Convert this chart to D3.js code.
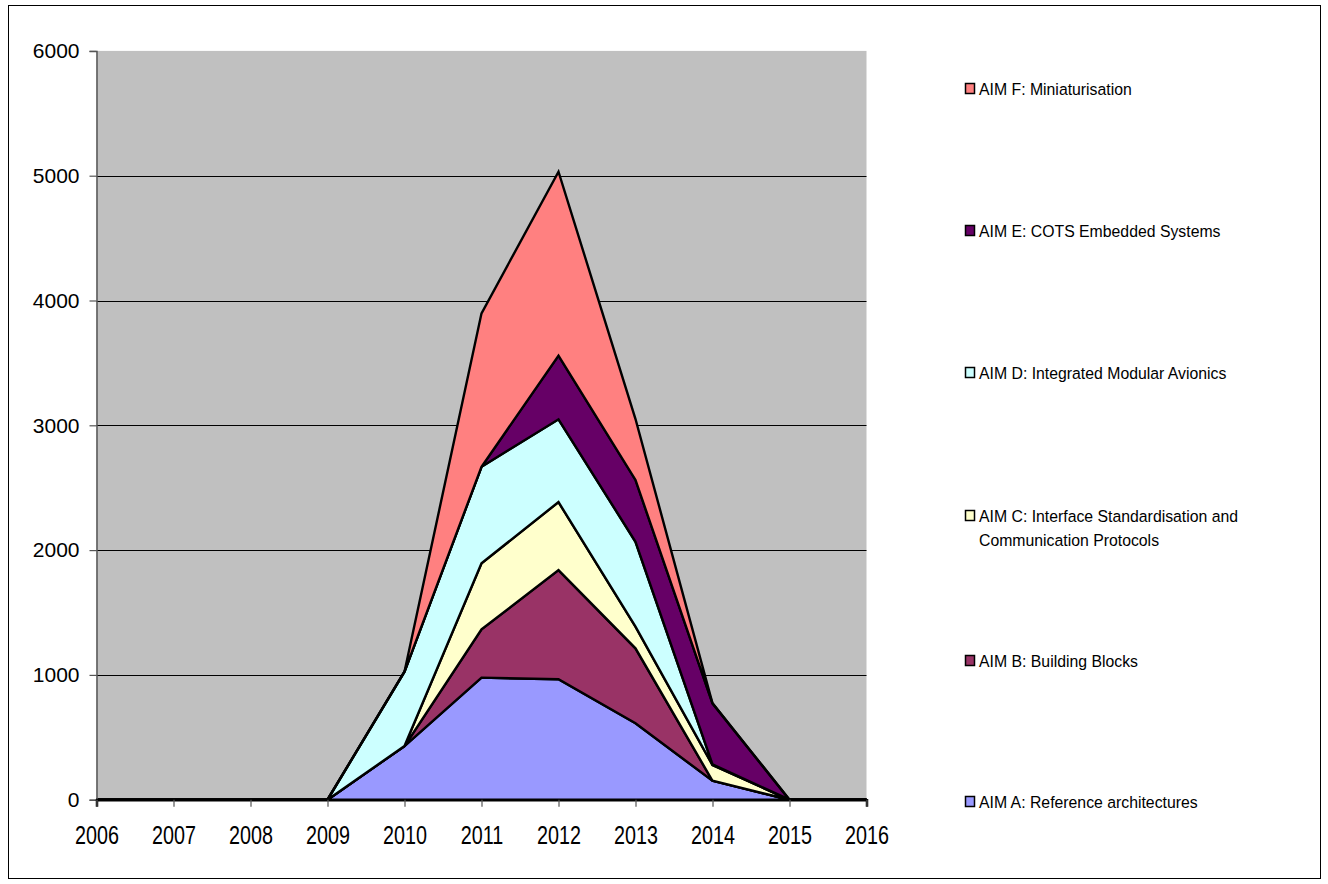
<!DOCTYPE html>
<html>
<head>
<meta charset="utf-8">
<script src="https://cdn.jsdelivr.net/npm/d3@7"></script>
<style>
  html, body { margin: 0; padding: 0; background: #fff; }
  svg { display: block; }
</style>
</head>
<body>
<svg id="chart" width="1328" height="884"></svg>
<script>
// Yearly effort per research aim (stacked)
const years = [2006, 2007, 2008, 2009, 2010, 2011, 2012, 2013, 2014, 2015, 2016];
const aimA = [0, 0, 0, 0, 430, 978, 965, 612, 152, 0, 0];
const aimB = [0, 0, 0, 0, 0, 387, 875, 601, 0, 0, 0];
const aimC = [0, 0, 0, 0, 0, 529, 545, 173, 126, 0, 0];
const aimD = [0, 0, 0, 0, 596, 774, 663, 681, 5, 0, 0];
const aimE = [0, 0, 0, 0, 0, 0, 510, 495, 489, 0, 0];
const aimF = [0, 0, 0, 0, 0, 1229, 1474, 488, 0, 0, 0];

const seriesNames = [
  "AIM A: Reference architectures",
  "AIM B: Building Blocks",
  "AIM C: Interface Standardisation and Communication Protocols",
  "AIM D: Integrated Modular Avionics",
  "AIM E: COTS Embedded Systems",
  "AIM F: Miniaturisation"
];
const seriesColors = ["#9999FF", "#993366", "#FFFFCC", "#CCFFFF", "#660066", "#FF8080"];
const yTicks = [0, 1000, 2000, 3000, 4000, 5000, 6000];

const keys = ["A", "B", "C", "D", "E", "F"];
const cols = [aimA, aimB, aimC, aimD, aimE, aimF];
const table = years.map((yr, i) => {
  const row = { year: yr };
  keys.forEach((k, j) => { row[k] = cols[j][i]; });
  return row;
});

const svg = d3.select("#chart");

// outer frame
svg.append("rect")
  .attr("x", 8.5).attr("y", 5.5)
  .attr("width", 1312).attr("height", 873)
  .attr("fill", "#fff").attr("stroke", "#000").attr("stroke-width", 1);

const x = d3.scalePoint().domain(years).range([96.5, 866.5]);
const y = d3.scaleLinear().domain([0, 6000]).range([799.7, 50.9]);

// plot background
svg.append("rect")
  .attr("x", x(2006)).attr("y", y(6000))
  .attr("width", x(2016) - x(2006)).attr("height", y(0) - y(6000))
  .attr("fill", "#C0C0C0");

// horizontal gridlines
svg.append("g")
  .selectAll("line")
  .data(yTicks.filter(v => v > 0 && v < 6000))
  .join("line")
  .attr("x1", x(2006)).attr("x2", x(2016))
  .attr("y1", d => Math.round(y(d)) + 0.5).attr("y2", d => Math.round(y(d)) + 0.5)
  .attr("stroke", "#000").attr("stroke-width", 1);

// stacked areas
const stack = d3.stack().keys(keys);
const layers = stack(table);
const area = d3.area()
  .x(d => x(d.data.year))
  .y0(d => y(d[0]))
  .y1(d => y(d[1]));

svg.append("g")
  .selectAll("path")
  .data(layers)
  .join("path")
  .attr("d", area)
  .attr("fill", (d, i) => seriesColors[i])
  .attr("stroke", "#000")
  .attr("stroke-width", 2.4)
  .attr("stroke-linejoin", "miter");

// y axis
const yAxis = d3.axisLeft(y).tickValues(yTicks).tickSize(7).tickPadding(10)
  .tickFormat(d3.format("d"));
const gy = svg.append("g").attr("transform", `translate(${x(2006)},0)`).call(yAxis);
gy.select(".domain").attr("stroke", "#555").attr("stroke-width", 1.5);
gy.selectAll(".tick line").attr("stroke", "#555").attr("stroke-width", 1.2);
gy.selectAll(".tick text")
  .attr("font-family", "'Liberation Sans', Arial, sans-serif")
  .attr("font-size", 21).attr("fill", "#000");

// x axis (condensed year labels)
const xAxis = d3.axisBottom(x).tickSize(7).tickPadding(19).tickFormat(d3.format("d"));
const gx = svg.append("g").attr("transform", `translate(0,${y(0)})`).call(xAxis);
gx.select(".domain").attr("stroke", "#000").attr("stroke-width", 2.5);
gx.selectAll(".tick line").attr("stroke", "#555").attr("stroke-width", 1.2);
gx.selectAll(".tick text")
  .attr("font-family", "'Liberation Sans', Arial, sans-serif")
  .attr("font-size", 26).attr("fill", "#000")
  .attr("transform", "scale(0.76,1)");

// legend (top entry is the last series)
const legendRows = [
  { i: 5, y: 89, lines: ["AIM F: Miniaturisation"] },
  { i: 4, y: 231, lines: ["AIM E: COTS Embedded Systems"] },
  { i: 3, y: 373, lines: ["AIM D: Integrated Modular Avionics"] },
  { i: 2, y: 516, lines: ["AIM C: Interface Standardisation and", "Communication Protocols"] },
  { i: 1, y: 661, lines: ["AIM B: Building Blocks"] },
  { i: 0, y: 802, lines: ["AIM A: Reference architectures"] }
];
const lg = svg.append("g");
const items = lg.selectAll("g").data(legendRows).join("g");
items.append("rect")
  .attr("x", 965.5).attr("y", d => d.y - 5.5)
  .attr("width", 9).attr("height", 10)
  .attr("fill", d => seriesColors[d.i])
  .attr("stroke", "#000").attr("stroke-width", 1.5);
items.each(function (d) {
  const t = d3.select(this).append("text")
    .attr("transform", `translate(979,${d.y}) scale(0.93,1)`)
    .attr("dominant-baseline", "central")
    .attr("font-family", "'Liberation Sans', Arial, sans-serif")
    .attr("font-size", 17).attr("fill", "#000");
  d.lines.forEach((ln, k) => {
    t.append("tspan").attr("x", 0).attr("dy", k === 0 ? 0 : 24).text(ln);
  });
});
</script>
</body>
</html>
